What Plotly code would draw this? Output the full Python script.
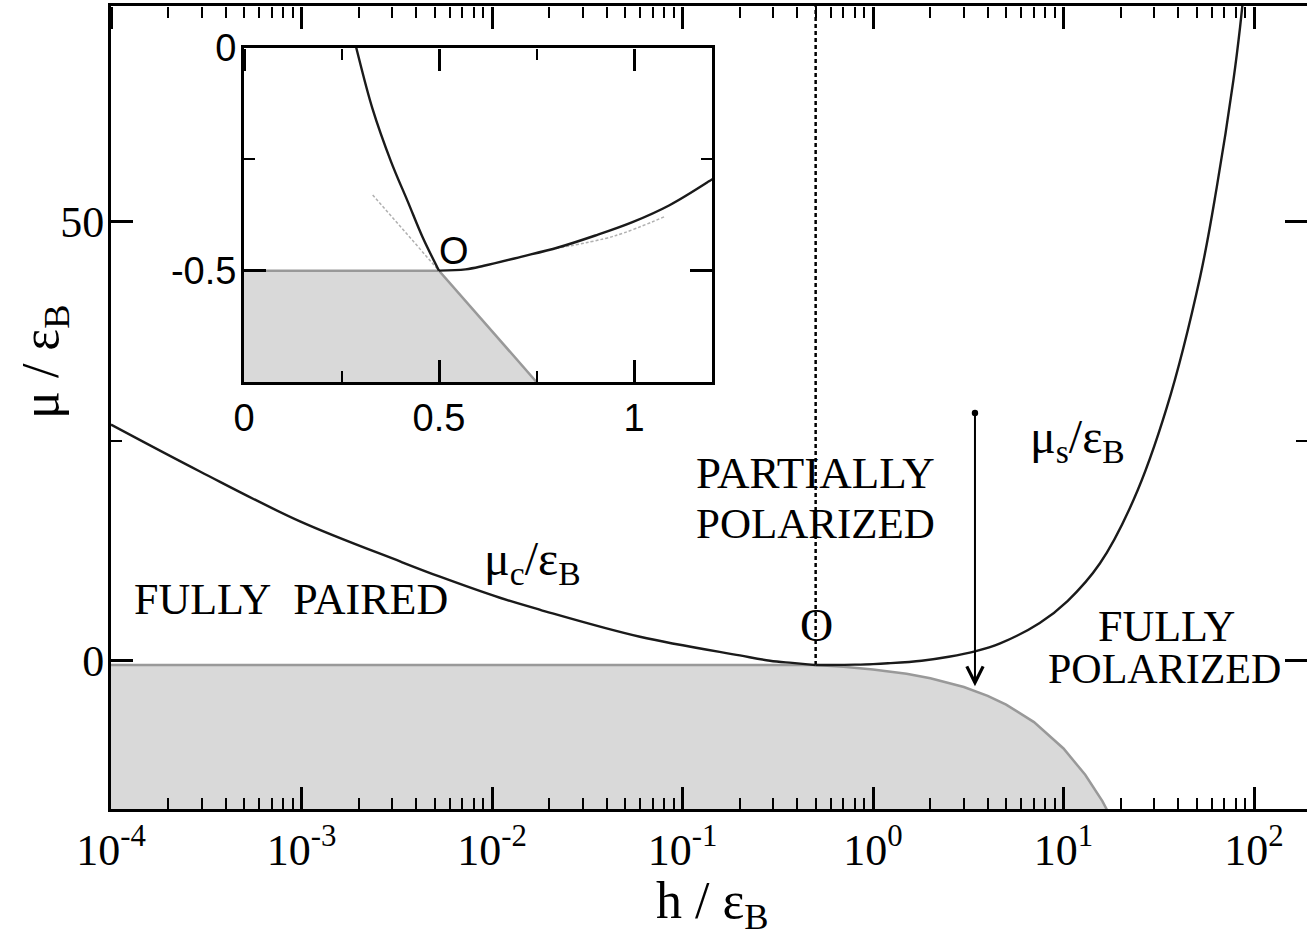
import math
import plotly.graph_objects as go

# ---------------- data ----------------
# main panel: lower boundary of the shaded (vacuum) region
h_boundary = [1e-4, 0.5, 0.7, 1.0, 1.5, 2.0, 3.0, 4.0, 5.0, 7.0, 10.0, 13.0, 16.0, 20.0]
mu_boundary = [-0.5, -0.5, -0.7, -1.0, -1.5, -2.0, -3.0, -4.0, -5.0, -7.0, -10.0, -13.0, -16.0, -20.0]

# main panel: mu_c curve
h_c = [1e-4, 2.93e-4, 9.82e-4, 3.29e-3, 5.33e-3, 0.011, 0.0179, 0.0598, 0.2, 0.288, 0.377, 0.5]
mu_c = [26.9, 21.56, 15.87, 11.31, 9.57, 7.17, 5.8, 2.73, 0.6, 0.0, -0.255, -0.5]

# main panel: mu_s curve
h_s = [0.5, 0.615, 0.805, 1.0, 1.2, 1.8, 2.5, 3.43, 4.65, 7.5, 10.5, 15.55, 23.3, 34.8, 52.1, 63.7, 77.9, 84.5, 90.0]
mu_s = [-0.5, -0.489, -0.448, -0.39, -0.3, 0.0, 0.45, 1.06, 1.97, 4.3, 6.8, 11.1, 18.3, 28.8, 43.7, 53.9, 66.1, 72.2, 78.0]

# special point O
h_O = 0.5
mu_O = -0.5

# arrow (h position, start and end mu)
h_arrow = 3.43
mu_arrow_top = 28.4
mu_arrow_tip = -2.9

# inset data
h_bi = [0.0, 0.5, 0.75, 1.25]
mu_bi = [-0.5, -0.5, -0.75, -1.25]
h_ci = [0.27, 0.288, 0.329, 0.377, 0.42, 0.458, 0.5]
mu_ci = [0.065, 0.0, -0.135, -0.255, -0.345, -0.425, -0.5]
h_si = [0.5, 0.568, 0.615, 0.71, 0.805, 0.901, 0.996, 1.091, 1.191, 1.25]
mu_si = [-0.5, -0.497, -0.489, -0.469, -0.448, -0.421, -0.391, -0.353, -0.300, -0.265]
h_ext = [0.33, 0.5]
mu_ext = [-0.33, -0.5]
h_faint = [0.80, 0.95, 1.08]
mu_faint = [-0.45, -0.422, -0.378]

# ticks
x_major = [1e-4, 1e-3, 1e-2, 1e-1, 1e0, 1e1, 1e2]
x_major_text = ["10<sup>-4</sup>", "10<sup>-3</sup>", "10<sup>-2</sup>", "10<sup>-1</sup>",
                "10<sup>0</sup>", "10<sup>1</sup>", "10<sup>2</sup>"]
x_minor = [m * 10.0 ** k for k in range(-4, 3) for m in range(2, 10)]
y_major = [0, 50]
y_major_text = ["0", "50"]
y_minor = [-25, 25, 75]
xi_major = [0, 0.5, 1]
xi_major_text = ["0", "0.5", "1"]
xi_minor = [0.25, 0.75]
yi_major = [-0.5, 0]
yi_major_text = ["-0.5", "0"]
yi_minor = [-0.75, -0.25]

# ---------------- figure ----------------
SERIF = "Liberation Serif"
SANS = "Liberation Sans"
GRAYFILL = "#d9d9d9"
GRAYLINE = "#999999"
CURVE = "#1a1a1a"

YMIN, YMAX = -16.9, 74.6
fig = go.Figure()

# shaded region (main)
fig.add_trace(go.Scatter(x=h_boundary, y=[YMIN - 20] * len(h_boundary), mode="lines",
                         line=dict(width=0, color=GRAYFILL), hoverinfo="skip"))
fig.add_trace(go.Scatter(x=h_boundary, y=mu_boundary, mode="lines", fill="tonexty",
                         fillcolor=GRAYFILL, line=dict(color=GRAYLINE, width=2.5)))
# dotted vertical line at O
fig.add_trace(go.Scatter(x=[h_O, h_O], y=[mu_O, YMAX + 5], mode="lines",
                         line=dict(color="black", width=2.5, dash="4px,3px")))
# curves
fig.add_trace(go.Scatter(x=h_c, y=mu_c, mode="lines", line=dict(color=CURVE, width=2.4, shape="spline")))
fig.add_trace(go.Scatter(x=h_s, y=mu_s, mode="lines", line=dict(color=CURVE, width=2.4, shape="spline")))
# invisible anchors for the extra tick axes (top / right of main, top of inset)
fig.add_trace(go.Scatter(x=[h_O], y=[mu_O], xaxis="x", yaxis="y2", mode="markers",
                         marker=dict(size=1, opacity=0), hoverinfo="skip"))
fig.add_trace(go.Scatter(x=[h_O], y=[mu_O], xaxis="x4", yaxis="y", mode="markers",
                         marker=dict(size=1, opacity=0), hoverinfo="skip"))

# inset
fig.add_trace(go.Scatter(x=h_bi, y=[-2] * len(h_bi), xaxis="x3", yaxis="y3", mode="lines",
                         line=dict(width=0, color=GRAYFILL)))
fig.add_trace(go.Scatter(x=h_bi, y=mu_bi, xaxis="x3", yaxis="y3", mode="lines", fill="tonexty",
                         fillcolor=GRAYFILL, line=dict(color=GRAYLINE, width=2.5)))
fig.add_trace(go.Scatter(x=h_ext, y=mu_ext, xaxis="x3", yaxis="y3", mode="lines",
                         line=dict(color="#b0b0b0", width=1.5, dash="3px,2px")))
fig.add_trace(go.Scatter(x=h_faint, y=mu_faint, xaxis="x3", yaxis="y3", mode="lines",
                         line=dict(color="#b0b0b0", width=1.5, dash="3px,2px", shape="spline")))
fig.add_trace(go.Scatter(x=h_ci, y=mu_ci, xaxis="x3", yaxis="y3", mode="lines",
                         line=dict(color=CURVE, width=2.4, shape="spline")))
fig.add_trace(go.Scatter(x=h_si, y=mu_si, xaxis="x3", yaxis="y3", mode="lines",
                         line=dict(color=CURVE, width=2.4, shape="spline")))
fig.add_trace(go.Scatter(x=[h_O], y=[mu_O], xaxis="x5", yaxis="y3", mode="markers",
                         marker=dict(size=1, opacity=0), hoverinfo="skip"))

L, R, T, B = 111, 0, 6, 129
W, H = 1307, 938
pw, ph = W - L - R, H - T - B

def px(xpix):
    return (xpix - L) / pw

def py(ypix):
    return (H - B - ypix) / ph

x_right_log = -4 + pw / 190.5
INSET_X = [px(244), px(712)]
INSET_Y = [py(382), py(48)]

common = dict(tickcolor="black", showgrid=False, zeroline=False, automargin=False)

def minor(vals, side="inside"):
    return dict(tickmode="array", tickvals=vals, ticks=side, ticklen=11,
                tickwidth=2, tickcolor="black", showgrid=False)

fig.update_layout(
    template="none",
    width=W, height=H,
    margin=dict(l=L, r=R, t=T, b=B, pad=0, autoexpand=False),
    paper_bgcolor="white", plot_bgcolor="white",
    font=dict(family=SERIF, size=40, color="black"),
    showlegend=False,
    xaxis=dict(type="log", range=[-4, x_right_log], domain=[0, 1], anchor="y",
               showline=True, linecolor="black", linewidth=3, mirror=True,
               ticks="inside", tickmode="array", tickvals=x_major, ticktext=x_major_text,
               ticklen=22, tickwidth=2.5,
               tickfont=dict(family=SERIF, size=44, color="black"),
               minor=minor(x_minor), **common),
    # top ticks of the main panel: a free axis at the top edge with ticks pointing down
    xaxis4=dict(type="log", range=[-4, x_right_log], overlaying="x", anchor="free", position=1,
                side="bottom", showline=False, showticklabels=False,
                ticks="outside", tickmode="array", tickvals=x_major, ticklen=22, tickwidth=2.5,
                minor=minor(x_minor, "outside"), **common),
    yaxis=dict(range=[YMIN, YMAX], domain=[0, 1], anchor="x",
               showline=True, linecolor="black", linewidth=3, mirror=False,
               ticks="inside", tickmode="array", tickvals=y_major, ticktext=y_major_text,
               ticklen=22, tickwidth=2.5, ticklabelstandoff=-5,
               tickfont=dict(family=SERIF, size=44, color="black"),
               minor=minor(y_minor), **common),
    yaxis2=dict(range=[YMIN, YMAX], overlaying="y", side="right", anchor="x",
                showline=False, showticklabels=False,
                ticks="inside", tickmode="array", tickvals=y_major, ticklen=22, tickwidth=2.5,
                minor=minor(y_minor), **common),
    xaxis3=dict(range=[0, 1.2], domain=INSET_X, anchor="y3",
                showline=True, linecolor="black", linewidth=3, mirror=True,
                ticks="inside", tickmode="array", tickvals=xi_major, ticktext=xi_major_text,
                ticklen=22, tickwidth=2.5,
                tickfont=dict(family=SANS, size=38, color="black"),
                minor=minor(xi_minor), **common),
    xaxis5=dict(range=[0, 1.2], overlaying="x3", anchor="free", position=INSET_Y[1],
                side="bottom", showline=False, showticklabels=False,
                ticks="outside", tickmode="array", tickvals=xi_major, ticklen=22, tickwidth=2.5,
                minor=minor(xi_minor, "outside"), **common),
    yaxis3=dict(range=[-0.75, 0], domain=INSET_Y, anchor="x3",
                showline=True, linecolor="black", linewidth=3, mirror="ticks",
                ticks="inside", tickmode="array", tickvals=yi_major, ticktext=yi_major_text,
                ticklen=22, tickwidth=2.5, ticklabelstandoff=-3,
                tickfont=dict(family=SANS, size=38, color="black"),
                minor=minor(yi_minor), **common),
)

def lab(text, h, mu, size=43, family=SERIF, xref="x", yref="y", log=True):
    fig.add_annotation(text=text, x=math.log10(h) if log else h, y=mu, xref=xref, yref=yref,
                       showarrow=False, xanchor="center", yanchor="middle",
                       font=dict(family=family, size=size, color="black"))

lab("FULLY&nbsp; PAIRED", 8.81e-4, 6.95, size=44)
lab("PARTIALLY", 0.502, 21.4, size=45)
lab("POLARIZED", 0.502, 15.6, size=43)
lab("FULLY", 34.9, 3.87, size=44)
lab("POLARIZED", 33.7, -0.91, size=42)
lab("O", 0.508, 3.99, size=46)
lab("μ<sub>c</sub>/ε<sub>B</sub>", 0.0164, 11.3, size=48)
lab("μ<sub>s</sub>/ε<sub>B</sub>", 11.8, 25.1, size=48)
lab("O", 0.538, -0.456, size=38, family=SANS, xref="x3", yref="y3", log=False)

# arrow
fig.add_annotation(x=math.log10(h_arrow), y=mu_arrow_tip, ax=math.log10(h_arrow), ay=mu_arrow_top,
                   xref="x", yref="y", axref="x", ayref="y", text="", showarrow=True,
                   arrowhead=5, arrowsize=1.6, arrowwidth=2, arrowcolor="black",
                   arrowside="end+start", startarrowhead=6, startarrowsize=0.8)

# axis titles
fig.add_annotation(text="h / ε<sub>B</sub>", x=px(712), y=py(904), xref="paper", yref="paper",
                   showarrow=False, xanchor="center", yanchor="middle",
                   font=dict(family=SERIF, size=52, color="black"))
fig.add_annotation(text="μ / ε<sub>B</sub>", x=px(44), y=py(362), xref="paper", yref="paper",
                   showarrow=False, xanchor="center", yanchor="middle", textangle=-90,
                   font=dict(family=SERIF, size=52, color="black"))

fig.write_html("out.html", config={"displayModeBar": False},
               post_script="document.body.style.margin='0';document.body.style.overflow='hidden';")
